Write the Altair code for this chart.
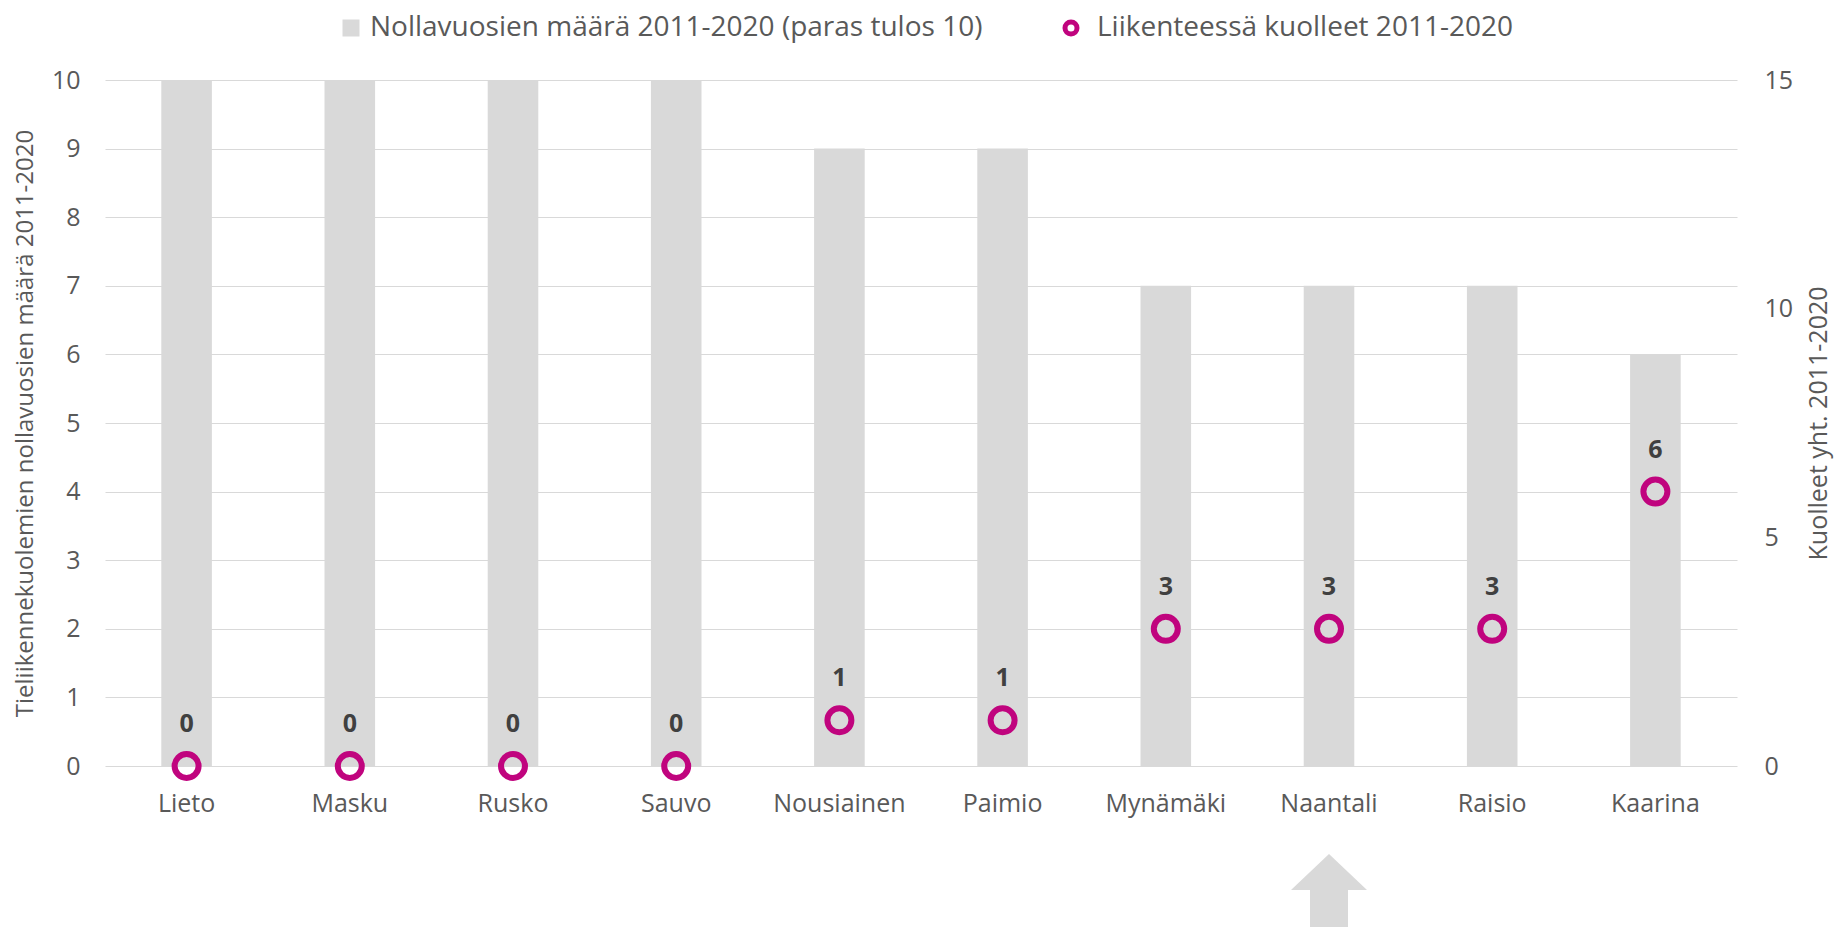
import altair as alt
import pandas as pd

munis = ["Lieto", "Masku", "Rusko", "Sauvo", "Nousiainen", "Paimio",
         "Mynämäki", "Naantali", "Raisio", "Kaarina"]
zero_years = [10, 10, 10, 10, 9, 9, 7, 7, 7, 6]
deaths = [0, 0, 0, 0, 1, 1, 3, 3, 3, 6]
bar_series = "Nollavuosien määrä 2011-2020 (paras tulos 10)"
dot_series = "Liikenteessä kuolleet 2011-2020"
arrow_target = ["Naantali"]

df = pd.DataFrame({"kunta": munis, "nolla": zero_years, "kuolleet": deaths,
                   "s1": bar_series, "s2": dot_series})
arrow_df = pd.DataFrame({"kunta": arrow_target})

NARROW = "Open Sans, sans-serif"
TICKF = "Open Sans, sans-serif"
GREY = "#d9d9d9"
TXT = "#595959"
MAG = "#c0047e"

x = alt.X("kunta:N", sort=munis, title=None,
          scale=alt.Scale(paddingInner=0.69, paddingOuter=0.345),
          axis=alt.Axis(domain=False, ticks=False, labelAngle=0, labelPadding=25,
                        labelFontSize=25, labelColor=TXT, labelFont=TICKF))

bars = alt.Chart(df).mark_bar().encode(
    x=x,
    y=alt.Y("nolla:Q", scale=alt.Scale(domain=[0, 10], nice=False),
            title="Tieliikennekuolemien nollavuosien määrä 2011-2020",
            axis=alt.Axis(values=list(range(0, 11)), domain=False, ticks=False,
                          grid=True, gridColor=GREY, gridWidth=1.2,
                          labelPadding=25, labelFontSize=25, labelColor=TXT,
                          labelFont=TICKF, titleFont=NARROW, titleFontSize=24,
                          titleFontWeight="normal", titleColor=TXT,
                          titleAngle=270, titleX=-80, titleY=343,
                          titleAlign="center", titleBaseline="middle")),
    color=alt.Color("s1:N", scale=alt.Scale(domain=[bar_series], range=[GREY]),
                    legend=alt.Legend(title=None, orient="none", legendX=232, legendY=-66,
                                      symbolType="square", symbolSize=289,
                                      labelFont=NARROW, labelFontSize=28, labelColor=TXT,
                                      labelOffset=5, padding=0, labelLimit=1000)),
)

yr = alt.Y("kuolleet:Q", scale=alt.Scale(domain=[0, 15], nice=False),
           title="Kuolleet yht. 2011-2020",
           axis=alt.Axis(orient="right", values=[0, 5, 10, 15], domain=False, ticks=False,
                         grid=False, labelPadding=27, labelFontSize=25, labelColor=TXT,
                         labelFont=TICKF, titleFont=NARROW, titleFontSize=25,
                         titleFontWeight="normal", titleColor=TXT,
                         titleAngle=270, titleX=81, titleY=343,
                         titleAlign="center", titleBaseline="middle"))

points = alt.Chart(df).mark_point(filled=False, size=576, strokeWidth=6, opacity=1).encode(
    x=x,
    y=yr,
    stroke=alt.Stroke("s2:N", scale=alt.Scale(domain=[dot_series], range=[MAG]),
                      legend=alt.Legend(title=None, orient="none", legendX=952, legendY=-66,
                                        symbolType="circle", symbolSize=144,
                                        symbolStrokeWidth=5, symbolFillColor="white",
                                        labelFont=NARROW, labelFontSize=28, labelColor=TXT,
                                        labelOffset=12, padding=0, labelLimit=1000)),
)

labels = alt.Chart(df).mark_text(dy=-42, fontSize=25, fontWeight="bold",
                                 font=TICKF, color="#404040").encode(
    x=x,
    y=yr,
    text="kuolleet:Q",
)

arrow = alt.Chart(arrow_df).mark_point(
    shape="M0,-1 L1,-0.05 L0.5,-0.05 L0.5,1.3 L-0.5,1.3 L-0.5,-0.05 L-1,-0.05 Z",
    filled=True, color=GREY, opacity=1, size=5776, strokeWidth=0,
).encode(x=x, y=alt.value(812))

chart = alt.layer(bars, alt.layer(points, labels), arrow).resolve_scale(
    y="independent", color="independent", stroke="independent"
).properties(
    width=1632, height=686,
    autosize=alt.AutoSizeParams(type="none"),
    padding={"left": 97, "top": 72, "right": 99, "bottom": 161},
).configure_view(strokeWidth=0)

chart.save("out.html", embed_options={"renderer": "svg", "actions": False})
